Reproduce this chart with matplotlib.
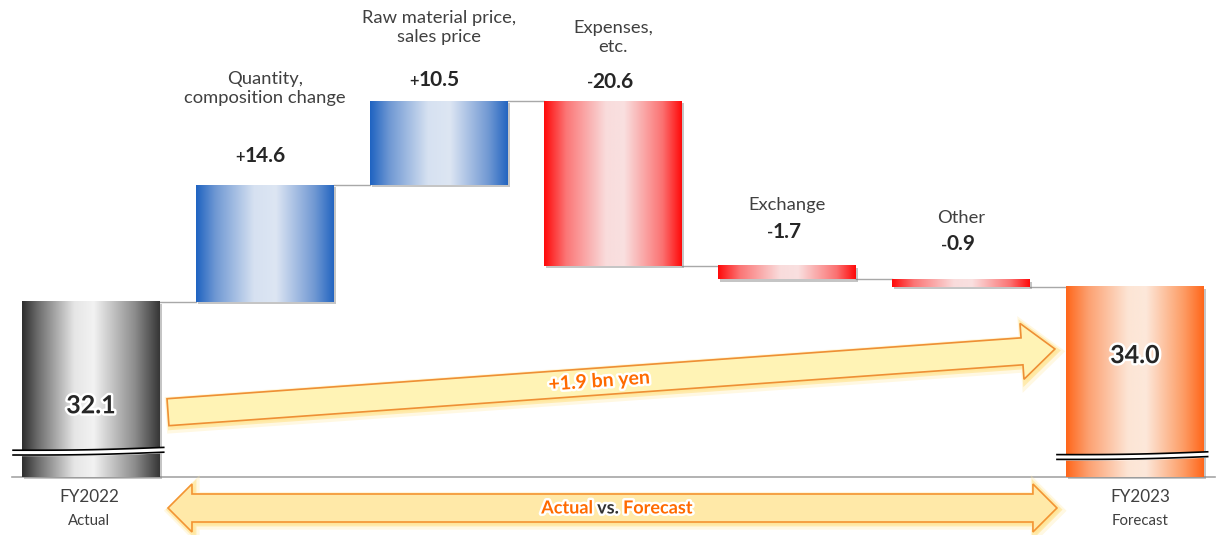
import numpy as np
import matplotlib
matplotlib.use("Agg")
import matplotlib.pyplot as plt
import matplotlib.patheffects as pe
from matplotlib.colors import LinearSegmentedColormap
from matplotlib.patches import Rectangle, Polygon

plt.rcParams['font.family'] = ['Lato', 'DejaVu Sans']

# ---- data -------------------------------------------------------------
step_labels = ["FY2022", "Quantity,\ncomposition change", "Raw material price,\nsales price",
               "Expenses,\netc.", "Exchange", "Other", "FY2023"]
start_value = 32.1          # FY2022 actual (bn yen)
changes = [14.6, 10.5, -20.6, -1.7, -0.9]
end_value = 34.0            # FY2023 forecast (bn yen)
end_titles = ["FY2022", "FY2023"]
end_subtitles = ["Actual", "Forecast"]
total_change_text = "+1.9 bn yen"

# ---- layout -----------------------------------------------------------
W, H = 1220, 535
XL = (-0.523, 6.489)
YL = (2.95, 69.825)
floor = 10.2                 # broken-axis floor for the two total bars
bar_w = 0.793
TXT = '#404040'
NUM = '#262626'

fig = plt.figure(figsize=(W / 100, H / 100), dpi=100)
ax = fig.add_axes([0, 0, 1, 1])
ax.axis('off')


def to_px(x, y):
    return ((x - XL[0]) / (XL[1] - XL[0]) * W, (YL[1] - y) / (YL[1] - YL[0]) * H)


def from_px(px, py):
    return (XL[0] + px / W * (XL[1] - XL[0]), YL[1] - py / H * (YL[1] - YL[0]))


def cmap(stops):
    return LinearSegmentedColormap.from_list('g', stops)


grey = cmap([(0, '#2e2e2e'), (0.12, '#6f6f6f'), (0.38, '#e6e6e6'), (0.52, '#f2f2f2'),
             (0.82, '#8c8c8c'), (1, '#363636')])
blue = cmap([(0, '#1f63c1'), (0.14, '#6f98d3'), (0.42, '#d6e1f1'), (0.58, '#dde6f3'),
             (0.86, '#7199d3'), (1, '#2465c0')])
red = cmap([(0, '#ff0a0a'), (0.16, '#fb7676'), (0.45, '#f9dcdc'), (0.58, '#f9e0e0'),
            (0.86, '#fb7272'), (1, '#ff0a0a')])
orange = cmap([(0, '#ff661a'), (0.16, '#fca070'), (0.45, '#fde5d5'), (0.58, '#fde8da'),
               (0.86, '#fd9a62'), (1, '#ff661a')])

grad = np.linspace(0, 1, 256).reshape(1, -1)


def gradient_bar(x, y0, y1, cm):
    lo, hi = min(y0, y1), max(y0, y1)
    shadow = Rectangle((x - bar_w / 2, lo), bar_w, hi - lo, facecolor='none', edgecolor='none',
                       zorder=1.5,
                       path_effects=[pe.SimplePatchShadow(offset=(1.6, -1.6), shadow_rgbFace='#808080',
                                                          alpha=0.45)])
    ax.add_patch(shadow)
    ax.imshow(grad, extent=[x - bar_w / 2, x + bar_w / 2, lo, hi], aspect='auto', cmap=cm,
              interpolation='bicubic', zorder=2)


# running totals
levels = [start_value]
for c in changes:
    levels.append(round(levels[-1] + c, 1))
xs = np.arange(len(step_labels))

# total bars
gradient_bar(xs[0], floor, start_value, grey)
gradient_bar(xs[-1], floor, end_value, orange)

# change bars
for i, c in enumerate(changes, start=1):
    gradient_bar(xs[i], levels[i - 1], levels[i], blue if c > 0 else red)

# connector lines
conn = levels + [end_value]
for i in range(len(xs) - 1):
    ax.plot([xs[i] + bar_w / 2, xs[i + 1] - bar_w / 2], [conn[i], conn[i]],
            color='#a8a8a8', lw=1.0, zorder=1)

# baseline
ax.plot([from_px(12, 0)[0], from_px(1215, 0)[0]], [floor, floor], color='#a6a6a6', lw=1.2, zorder=1)

# axis-break marks on the total bars
for xc, dy in [(xs[0], 0.0), (xs[-1], -0.55)]:
    xx = np.linspace(xc - 0.448, xc + 0.418, 100)
    t = (xx - xx[0]) / (xx[-1] - xx[0])
    yb = 13.55 + dy + 0.35 * t - 0.12 * np.sin(np.pi * t)
    gap = 0.6
    ax.fill_between(xx, yb - gap, yb, color='white', zorder=3)
    ax.plot(xx, yb, color='black', lw=1.2, zorder=3.1)
    ax.plot(xx, yb - gap, color='black', lw=1.2, zorder=3.1)

# ---- labels on the change bars ----------------------------------------
value_off = [29, 21, 19, 34, 35]
title_off = [96.5, 73.5, 63.5, 61, 61]
for k, c in enumerate(changes):
    i = k + 1
    top = max(levels[i - 1], levels[i])
    num = ax.annotate(f"{abs(c):.1f}", xy=(xs[i], top), xytext=(0, value_off[k]),
                      textcoords='offset pixels', ha='center', va='center', fontsize=15,
                      fontweight='bold', color=NUM, zorder=6)
    ax.annotate('+' if c > 0 else '-', xy=(0, 0), xycoords=num, xytext=(0.4, 0.6),
                textcoords='offset points', ha='right', va='bottom', fontsize=12, color=NUM,
                fontweight='semibold', zorder=6)
    ax.annotate(step_labels[i], xy=(xs[i], top), xytext=(0, title_off[k]), textcoords='offset pixels',
                ha='center', va='center', fontsize=13.2, color=TXT, linespacing=1.3,
                multialignment='center', zorder=6)

# ---- labels on the total bars -----------------------------------------
glow = [pe.withStroke(linewidth=3.5, foreground='white')]
ax.annotate(f"{start_value:.1f}", xy=(xs[0], start_value), xytext=(0, -104), textcoords='offset pixels',
            ha='center', va='center', fontsize=18, fontweight='bold', color=NUM, zorder=6,
            path_effects=glow)
ax.annotate(f"{end_value:.1f}", xy=(xs[-1], end_value), xytext=(0, -69), textcoords='offset pixels',
            ha='center', va='center', fontsize=18, fontweight='bold', color=NUM, zorder=6,
            path_effects=glow)

for xc, t, s, dx in [(xs[0], end_titles[0], end_subtitles[0], -2), (xs[-1], end_titles[1], end_subtitles[1], 5)]:
    ax.annotate(t, xy=(xc, floor), xytext=(dx, -20), textcoords='offset pixels', ha='center',
                va='center', fontsize=12.3, color=TXT)
    ax.annotate(s, xy=(xc, floor), xytext=(dx, -44), textcoords='offset pixels', ha='center',
                va='center', fontsize=10.8, color=TXT)


# ---- arrows -------------------------------------------------------------
def arrow_poly(p0, p1, shaft, head_half, head_len, double=False):
    p0, p1 = np.asarray(p0, float), np.asarray(p1, float)
    u = (p1 - p0) / np.hypot(*(p1 - p0))
    n = np.array([-u[1], u[0]])
    b1 = p1 - u * head_len
    if double:
        b0 = p0 + u * head_len
        pts = [p0, b0 + n * head_half, b0 + n * shaft, b1 + n * shaft, b1 + n * head_half, p1,
               b1 - n * head_half, b1 - n * shaft, b0 - n * shaft, b0 - n * head_half]
    else:
        pts = [p0 + n * shaft, b1 + n * shaft, b1 + n * head_half, p1,
               b1 - n * head_half, b1 - n * shaft, p0 - n * shaft]
    return np.array([from_px(*p) for p in pts])


arrow_glow = [pe.Stroke(linewidth=7, foreground='#ffe9a0', alpha=0.3, offset=(2, -2)),
              pe.Stroke(linewidth=4, foreground='#ffd861', alpha=0.4, offset=(1.2, -1.2)),
              pe.Normal()]

x_tail = to_px(xs[0] + bar_w / 2, 0)[0] + 8
x_tip = to_px(xs[-1] - bar_w / 2, 0)[0] - 11
y_tail, y_tip = to_px(0, 18.3)[1], to_px(0, 26.2)[1]
main = Polygon(arrow_poly((x_tail, y_tail), (x_tip, y_tip), 13.5, 28, 33), closed=True,
               facecolor='#fff3b5', edgecolor='#ee8f35', lw=1.2, zorder=4, path_effects=arrow_glow)
ax.add_patch(main)
ang = np.degrees(np.arctan2(y_tail - y_tip, x_tip - x_tail))
mx = (x_tail + x_tip) / 2 - 12
my = y_tail + (y_tip - y_tail) * (mx - x_tail) / (x_tip - x_tail)
ax.text(*from_px(mx, my), total_change_text, ha='center', va='center', rotation=ang,
        rotation_mode='anchor', fontsize=14, fontweight='bold', color='#ff6a00', zorder=6,
        path_effects=glow)

y_dbl = to_px(0, floor)[1] + 31
dbl = Polygon(arrow_poly((x_tail, y_dbl), (x_tip + 2, y_dbl), 14, 24, 24, double=True), closed=True,
              facecolor='#ffe9a8', edgecolor='#f39433', lw=1.2, zorder=4, path_effects=arrow_glow)
ax.add_patch(dbl)
vs = ax.text(*from_px(608, y_dbl), "vs.", ha='center', va='center', fontsize=13, fontweight='bold',
             color='#333333', zorder=6, path_effects=glow)
ax.annotate("Actual", xy=(0, 0), xycoords=vs, xytext=(-3, 0), textcoords='offset points', ha='right',
            va='bottom', fontsize=13, fontweight='bold', color='#ff6a00', zorder=6, path_effects=glow)
ax.annotate("Forecast", xy=(1, 0), xycoords=vs, xytext=(3, 0), textcoords='offset points', ha='left',
            va='bottom', fontsize=13, fontweight='bold', color='#ff6a00', zorder=6, path_effects=glow)

ax.set_xlim(*XL)
ax.set_ylim(*YL)
fig.savefig("out.png", dpi=100)
